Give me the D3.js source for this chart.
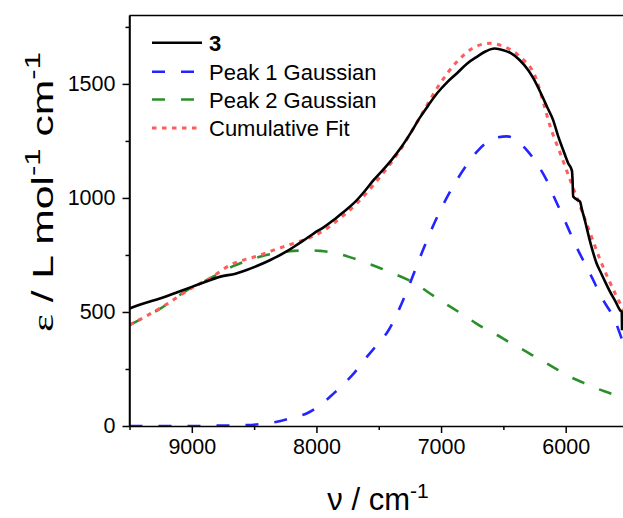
<!DOCTYPE html>
<html>
<head>
<meta charset="utf-8">
<script src="https://cdn.jsdelivr.net/npm/d3@7"></script>
<style>
  html, body { margin: 0; padding: 0; background: #fff; }
  svg { display: block; }
  text { font-family: "Liberation Sans", Arial, sans-serif; fill: #000; }
</style>
</head>
<body>
<svg id="chart" width="623" height="518"></svg>
<script>
// ---- data ----
const nuBlack = [9500, 9400, 9250, 9100, 9000, 8900, 8770, 8650, 8560, 8450, 8370, 8250, 8180, 8100, 8020, 7940, 7860, 7780, 7700, 7620, 7540, 7450, 7400, 7320, 7250, 7170, 7100, 7030, 6950, 6870, 6790, 6710, 6640, 6570, 6500, 6440, 6370, 6300, 6260, 6200, 6150, 6100, 6060, 6020, 5980, 5950, 5945, 5940, 5900, 5885, 5870, 5850, 5800, 5750, 5720, 5690, 5650, 5600, 5560, 5550, 5548];
const epsBlack = [515, 535, 560, 590, 610, 630, 655, 668, 684, 708, 728, 762, 786, 815, 845, 872, 904, 940, 977, 1025, 1079, 1133, 1165, 1222, 1280, 1352, 1408, 1460, 1508, 1548, 1590, 1620, 1643, 1655, 1648, 1635, 1605, 1560, 1525, 1460, 1400, 1340, 1270, 1210, 1152, 1120, 1080, 1006, 990, 984, 950, 910, 800, 710, 675, 640, 595, 545, 505, 500, 420];

const nuPeak1 = [9500, 9000, 8750, 8556, 8400, 8316, 8200, 8075, 7950, 7861, 7780, 7700, 7594, 7500, 7433, 7330, 7243, 7150, 7058, 6930, 6796, 6700, 6636, 6550, 6470, 6400, 6314, 6230, 6154, 6090, 6021, 5914, 5806, 5700, 5606, 5546, 5500];
const epsPeak1 = [0, 0, 2, 4, 12, 19, 35, 56, 100, 143, 185, 231, 304, 365, 410, 520, 635, 765, 885, 1025, 1143, 1210, 1242, 1265, 1270, 1255, 1211, 1150, 1079, 1000, 918, 786, 670, 553, 465, 377, 320];

const nuPeak2 = [9500, 9250, 9037, 8850, 8663, 8448, 8300, 8182, 8050, 7968, 7850, 7701, 7600, 7487, 7380, 7273, 7180, 7086, 6970, 6850, 6738, 6650, 6551, 6450, 6337, 6250, 6154, 6060, 5967, 5860, 5753, 5660, 5566, 5500];
const epsPeak2 = [443, 516, 596, 648, 702, 743, 760, 768, 770, 768, 758, 735, 715, 692, 668, 643, 615, 580, 538, 497, 457, 427, 399, 366, 333, 305, 275, 245, 216, 190, 165, 147, 129, 118];

const nuFit = [9500, 9250, 9000, 8850, 8690, 8448, 8350, 8182, 8036, 7900, 7861, 7674, 7487, 7327, 7166, 7006, 6873, 6750, 6650, 6604, 6497, 6368, 6234, 6180, 6124, 6044, 5964, 5883, 5803, 5723, 5642, 5550, 5500];
const epsFit = [443, 518, 605, 650, 706, 750, 770, 801, 830, 872, 889, 977, 1094, 1211, 1357, 1503, 1597, 1655, 1676, 1678, 1664, 1620, 1518, 1420, 1313, 1196, 1079, 962, 845, 728, 626, 523, 470];

const xMajorTicks = [9000, 8000, 7000, 6000];
const xMinorTicks = [9500, 8500, 7500, 6500, 5500];
const yMajorTicks = [0, 500, 1000, 1500];
const yMinorTicks = [250, 750, 1250, 1750];

const legendLabels = ["3", "Peak 1 Gaussian", "Peak 2 Gaussian", "Cumulative Fit"];

// ---- layout ----
const svg = d3.select("#chart");
svg.append("rect").attr("width", 623).attr("height", 518).attr("fill", "#fff");

const L = 129.5, R = 628, T = 15.5, B = 426;
const x = d3.scaleLinear().domain([9500, 5500]).range([L, R]);
const y = d3.scaleLinear().domain([0, 1800]).range([B, T]);

svg.append("clipPath").attr("id", "clip")
  .append("rect").attr("x", L).attr("y", T).attr("width", R - L).attr("height", B - T);

const series = [
  { nu: nuPeak2, eps: epsPeak2, color: "#2a8f2a", width: 2.6, dash: "13,16" },
  { nu: nuPeak1, eps: epsPeak1, color: "#2424ff", width: 2.6, dash: "13,16" },
  { nu: nuFit, eps: epsFit, color: "#ff5c5c", width: 3, dash: "4.5,5.5" },
  { nu: nuBlack, eps: epsBlack, color: "#000", width: 2.6, dash: null }
];

const line = d3.line()
  .x(d => x(d[0])).y(d => y(d[1]))
  .curve(d3.curveMonotoneX);

const plot = svg.append("g").attr("clip-path", "url(#clip)");
series.forEach(s => {
  const pts = s.nu.map((n, i) => [n, s.eps[i]]);
  plot.append("path")
    .attr("d", line(pts))
    .attr("fill", "none")
    .attr("stroke", s.color)
    .attr("stroke-width", s.width)
    .attr("stroke-dasharray", s.dash)
    .attr("stroke-linejoin", "round");
});

// ---- axes ----
const fmt = d3.format("d");
svg.append("g").attr("transform", `translate(0,${B})`)
  .call(d3.axisBottom(x).tickValues(xMajorTicks).tickSize(7).tickSizeOuter(0).tickPadding(6).tickFormat(fmt));
svg.append("g").attr("transform", `translate(0,${B})`)
  .call(d3.axisBottom(x).tickValues(xMinorTicks).tickSize(4).tickSizeOuter(0).tickFormat(""))
  .call(g => g.select(".domain").remove());

svg.append("g").attr("transform", `translate(${L},0)`)
  .call(d3.axisLeft(y).tickValues(yMajorTicks).tickSize(7).tickSizeOuter(0).tickPadding(7).tickFormat(fmt));
svg.append("g").attr("transform", `translate(${L},0)`)
  .call(d3.axisLeft(y).tickValues(yMinorTicks).tickSize(4).tickSizeOuter(0).tickFormat(""))
  .call(g => g.select(".domain").remove());

svg.selectAll(".tick line, .domain").attr("stroke", "#000").attr("stroke-width", 1.5);
svg.selectAll(".tick text")
  .style("font-family", '"Liberation Sans", Arial, sans-serif')
  .style("font-size", "21.5px").attr("fill", "#000");

// top frame line
svg.append("line").attr("x1", L).attr("x2", R).attr("y1", T).attr("y2", T)
  .attr("stroke", "#000").attr("stroke-width", 1.5);
svg.append("line").attr("x1", L).attr("x2", L).attr("y1", T).attr("y2", B)
  .attr("stroke", "#000").attr("stroke-width", 1.5);

// ---- axis titles ----
const xt = svg.append("text").attr("x", 378).attr("y", 510)
  .attr("text-anchor", "middle").style("font-size", "31px");
xt.append("tspan").text("ν / cm");
xt.append("tspan").attr("dy", -12).style("font-size", "21px").text("-1");

const ytG = svg.append("g").attr("transform", "translate(53,192) rotate(-90) scale(1.42,1)");
const yt = ytG.append("text").attr("x", 0).attr("y", 0)
  .attr("text-anchor", "middle").style("font-size", "30px");
yt.append("tspan").style("font-family", '"Liberation Serif", "DejaVu Serif", serif').text("ε");
yt.append("tspan").text(" / L mol");
yt.append("tspan").attr("dy", -13).style("font-size", "22px").text("-1");
yt.append("tspan").attr("dy", 13).text("  cm");
yt.append("tspan").attr("dy", -13).style("font-size", "22px").text("-1");

// ---- legend ----
const legendY = [42.7, 71.7, 99.5, 128];
const legendSeries = [series[3], series[1], series[0], series[2]];
legendLabels.forEach((lab, i) => {
  const s = legendSeries[i];
  svg.append("line")
    .attr("x1", 152).attr("x2", 202).attr("y1", legendY[i]).attr("y2", legendY[i])
    .attr("stroke", s.color).attr("stroke-width", s.width)
    .attr("stroke-dasharray", s.dash);
  svg.append("text").attr("x", 209).attr("y", legendY[i] + 8)
    .style("font-size", "22px")
    .style("font-weight", i === 0 ? "bold" : "normal")
    .text(lab);
});
</script>
</body>
</html>
